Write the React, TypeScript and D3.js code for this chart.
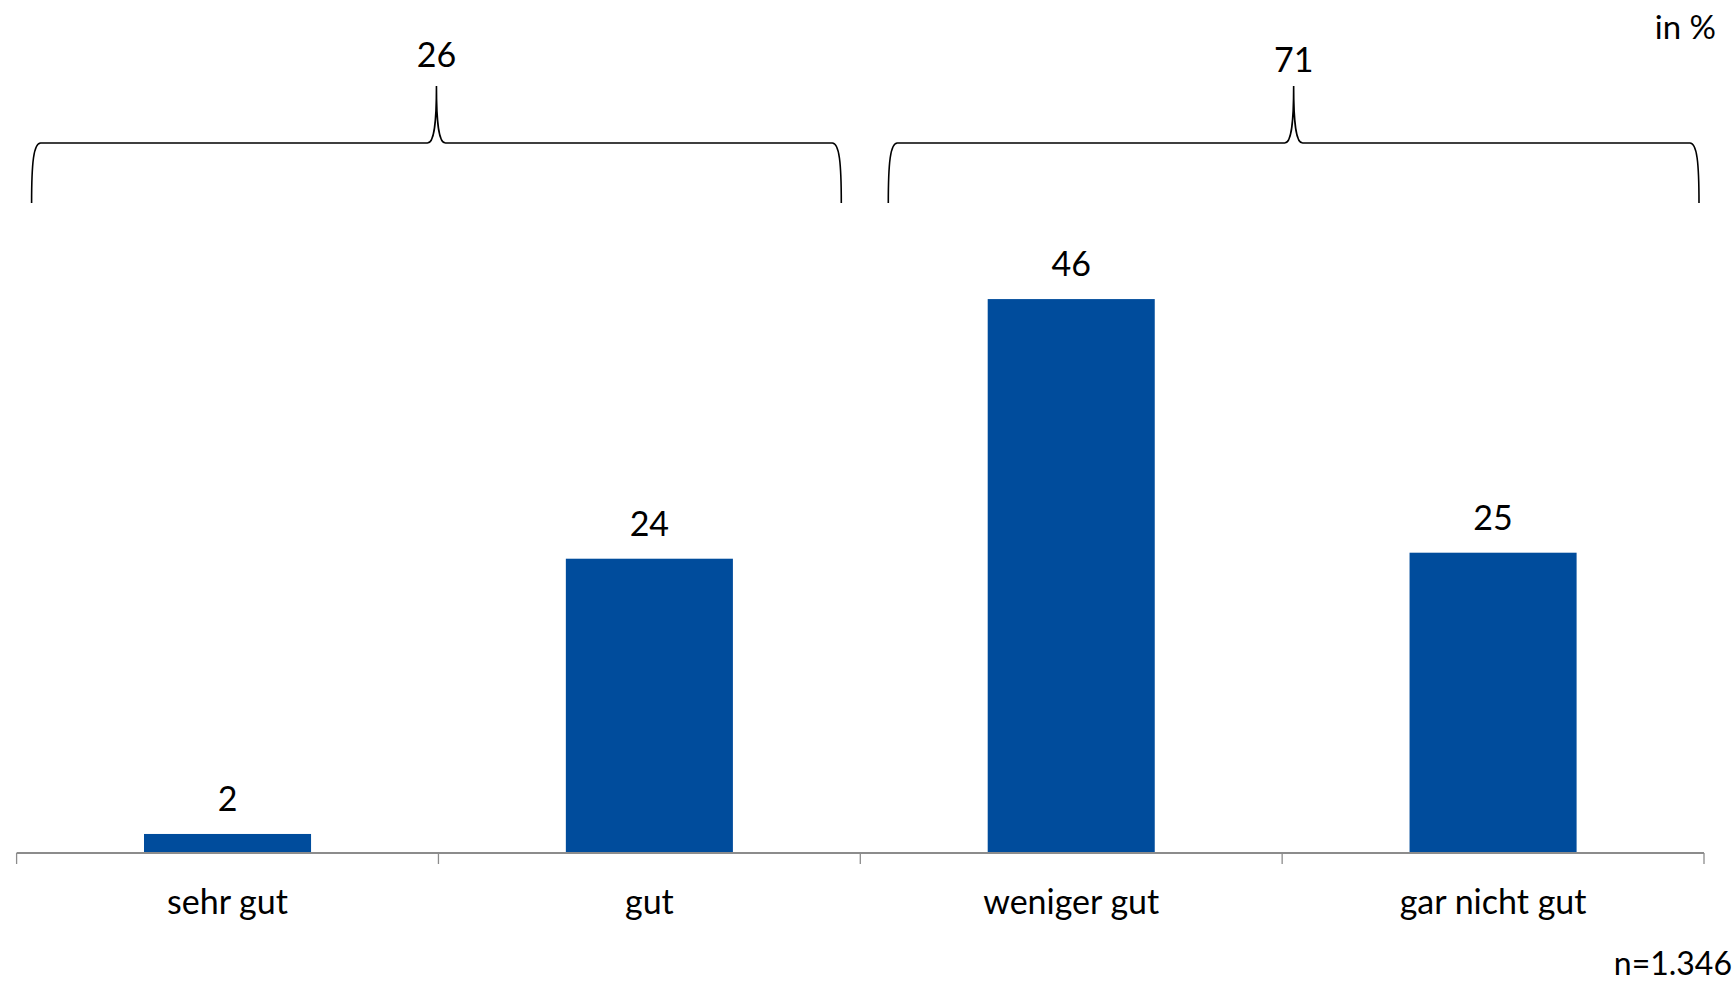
import React from "react";
import * as d3 from "d3";

const categories = ["sehr gut", "gut", "weniger gut", "gar nicht gut"];
const values = [1.5, 24.4, 46, 24.9];
const valueLabels = ["2", "24", "46", "25"];
const groupLabels = ["26", "71"];
const groupRanges: [number, number][] = [[0, 1], [2, 3]];
const unitLabel = "in %";
const sampleNote = "n=1.346";

const W = 1735;
const H = 983;
const FONT = "Lato, 'Open Sans', sans-serif";
const BAR = "#004C9C";
const AXIS = "#8c8c8c";

export default function App() {
  const x = d3
    .scaleBand<string>()
    .domain(categories)
    .range([16.6, 1704])
    .paddingInner(0.604)
    .paddingOuter(0.302);
  const y = d3.scaleLinear().domain([0, 50]).range([852, 251]);
  const step = x.step();
  const x0 = 16.6;
  const baseY = y(0);

  const braceInsets: [number, number][] = [[15, 19], [28, 5]];
  const braceBottom = 203;
  const braceMid = 143;
  const braceTip = 86;

  const bracePath = (a: number, b: number) => {
    const c = (a + b) / 2;
    const p = d3.path();
    p.moveTo(a, braceBottom);
    p.bezierCurveTo(a, 163, a + 2, braceMid, a + 9, braceMid);
    p.lineTo(c - 9, braceMid);
    p.bezierCurveTo(c - 3, braceMid, c, 128, c, braceTip);
    p.bezierCurveTo(c, 128, c + 3, braceMid, c + 9, braceMid);
    p.lineTo(b - 9, braceMid);
    p.bezierCurveTo(b - 2, braceMid, b, 163, b, braceBottom);
    return p.toString();
  };

  return (
    <svg
      width={W}
      height={H}
      style={{ position: "absolute", left: 0, top: 0, background: "#fff" }}
      fontFamily={FONT}
    >
      {categories.map((c, i) => (
        <rect
          key={c}
          x={x(c)}
          y={y(values[i])}
          width={x.bandwidth()}
          height={baseY - y(values[i])}
          fill={BAR}
        />
      ))}
      <line x1={x0} x2={x0 + step * 4} y1={baseY + 1} y2={baseY + 1} stroke={AXIS} strokeWidth={2} />
      {d3.range(categories.length + 1).map((i) => (
        <line
          key={i}
          x1={x0 + i * step}
          x2={x0 + i * step}
          y1={baseY + 1}
          y2={baseY + 12}
          stroke={AXIS}
          strokeWidth={1.3}
        />
      ))}
      {categories.map((c, i) => (
        <text
          key={"v" + c}
          x={x(c)! + x.bandwidth() / 2}
          y={y(values[i]) - 23}
          textAnchor="middle"
          fontSize={34}
          fill="#000"
        >
          {valueLabels[i]}
        </text>
      ))}
      {categories.map((c) => (
        <text
          key={"c" + c}
          x={x(c)! + x.bandwidth() / 2}
          y={914}
          textAnchor="middle"
          fontSize={34}
          fill="#000"
        >
          {c}
        </text>
      ))}
      {groupRanges.map(([s, e], gi) => {
        const a = x0 + s * step + braceInsets[gi][0];
        const b = x0 + (e + 1) * step - braceInsets[gi][1];
        return (
          <g key={"g" + gi}>
            <path d={bracePath(a, b)} fill="none" stroke="#000" strokeWidth={1.6} />
            <text
              x={(a + b) / 2}
              y={gi === 0 ? 67 : 72}
              textAnchor="middle"
              fontSize={34}
              fill="#000"
            >
              {groupLabels[gi]}
            </text>
          </g>
        );
      })}
      <text x={1716} y={39} textAnchor="end" fontSize={33} fill="#000">
        {unitLabel}
      </text>
      <text x={1732} y={975} textAnchor="end" fontSize={32} fill="#000">
        {sampleNote}
      </text>
    </svg>
  );
}
